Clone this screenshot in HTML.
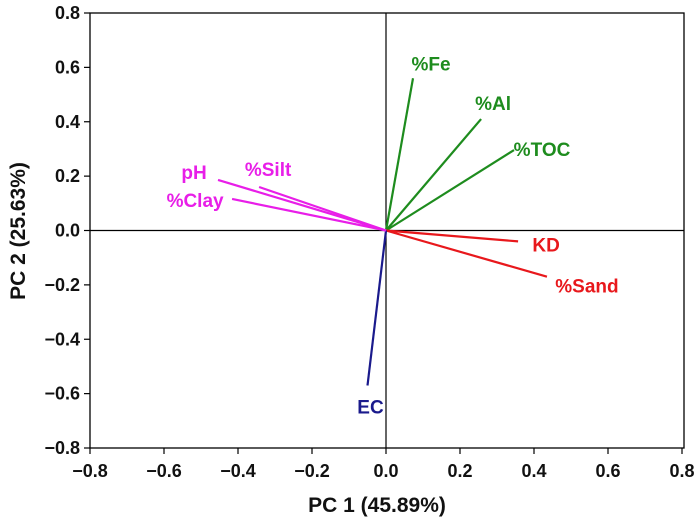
<!DOCTYPE html>
<html><head><meta charset="utf-8"><style>
body{margin:0;background:#fff}
svg{display:block;font-family:"Liberation Sans",sans-serif;font-weight:bold}
</style></head><body>
<svg id="c" width="696" height="524"></svg>
<script>
const names=["%Fe","%Al","%TOC","KD","%Sand","EC","pH","%Silt","%Clay"];
const pc1=[0.073,0.257,0.346,0.357,0.435,-0.05,-0.454,-0.343,-0.416];
const pc2=[0.56,0.41,0.296,-0.04,-0.17,-0.57,0.186,0.16,0.116];
const colors=["#1e8c1e","#1e8c1e","#1e8c1e","#e8181c","#e8181c","#1a1a8c","#e81ee8","#e81ee8","#e81ee8"];
const labelOff=[[18,-15],[12,-16],[28,-1],[28,3],[40,9],[3,21],[-24,-8],[9,-18],[-37,1]];
const ticks=[-0.8,-0.6,-0.4,-0.2,0.0,0.2,0.4,0.6,0.8];
const X0=90,X1=682,Y0=448,Y1=13;
const sx=v=>X0+(v+0.8)/1.6*(X1-X0);
const sy=v=>Y0-(v+0.8)/1.6*(Y0-Y1);
const svg=document.getElementById('c');const NS="http://www.w3.org/2000/svg";
function mk(t,a,p){const e=document.createElementNS(NS,t);for(const k in a)e.setAttribute(k,a[k]);(p||svg).appendChild(e);return e;}
const fr=mk('rect',{x:X0,y:Y1,width:X1-X0+2,height:Y0-Y1,fill:'none',stroke:'#000','stroke-width':1.3});


const hz=mk('line',{x1:X0,x2:X1+2,y1:sy(0),y2:sy(0),stroke:'#000','stroke-width':1.2});


const vz=mk('line',{x1:sx(0),x2:sx(0),y1:Y1,y2:Y0,stroke:'#000','stroke-width':1.2});


const fmt=v=>(v<0?'\u2212':'')+Math.abs(v).toFixed(1);
ticks.forEach(t=>{
 mk('line',{x1:sx(t),x2:sx(t),y1:Y0,y2:Y0+6,stroke:'#000','stroke-width':1.2});
 const tx=mk('text',{x:sx(t),y:Y0+29,'text-anchor':'middle','font-size':18,fill:'#111'});tx.textContent=fmt(t);
 
 
 mk('line',{x1:X0-6,x2:X0,y1:sy(t),y2:sy(t),stroke:'#000','stroke-width':1.2});
 const ty=mk('text',{x:X0-10,y:sy(t)+6,'text-anchor':'end','font-size':18,fill:'#111'});ty.textContent=fmt(t);
 
 
});
names.forEach((n,i)=>{
 const l=mk('line',{x1:sx(0),y1:sy(0),x2:sx(pc1[i]),y2:sy(pc2[i]),stroke:colors[i],'stroke-width':2.2});
 
 
 const t=mk('text',{x:sx(pc1[i])+labelOff[i][0],y:sy(pc2[i])+labelOff[i][1]+7,'text-anchor':'middle','font-size':19,fill:colors[i]});
 t.textContent=n;
 
 
});
const xt=mk('text',{x:377,y:512,'text-anchor':'middle','font-size':21,fill:'#111'});xt.textContent='PC 1 (45.89%)';


const yt=mk('text',{x:0,y:0,transform:'translate(25,231) rotate(-90)','text-anchor':'middle','font-size':21,fill:'#111'});yt.textContent='PC 2 (25.63%)';


</script>
</body></html>
